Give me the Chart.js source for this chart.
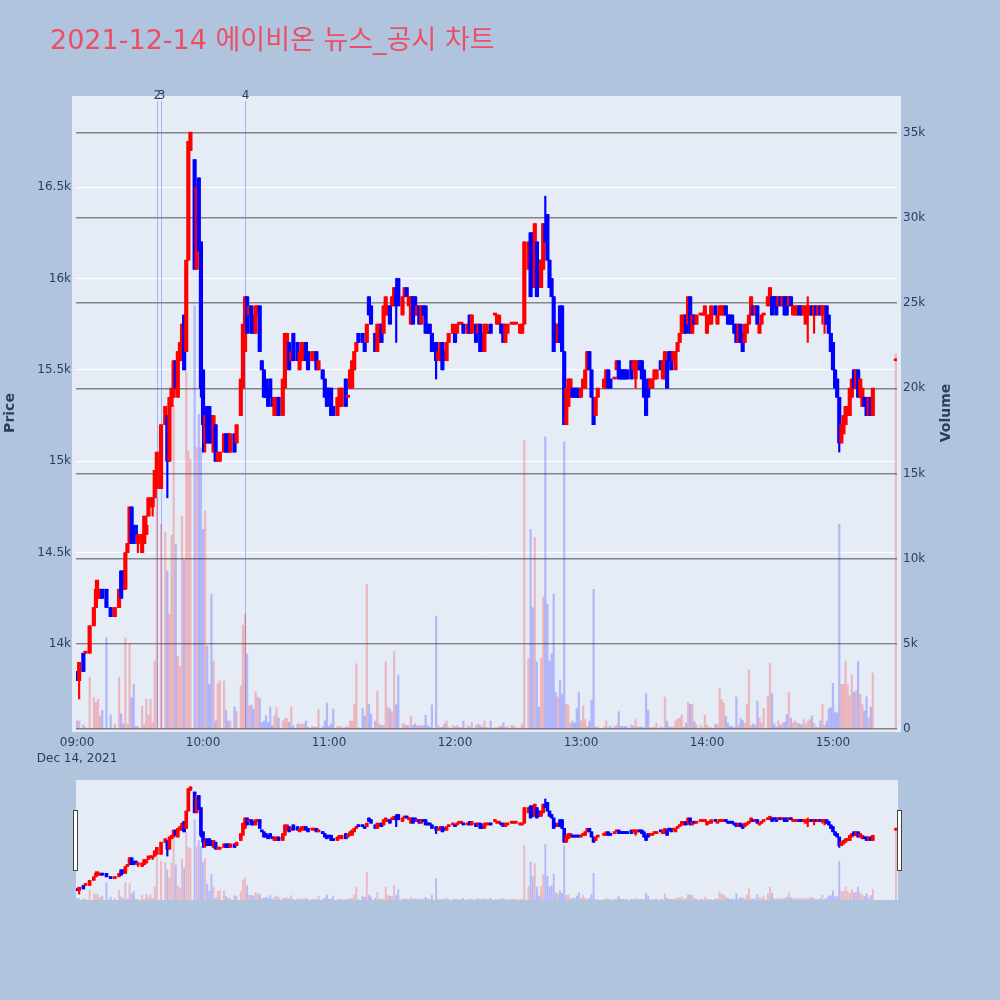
<!DOCTYPE html>
<html>
<head>
<meta charset="utf-8">
<script src="https://cdn.jsdelivr.net/npm/chart.js@4.4.1/dist/chart.umd.min.js"></script>
<style>
  html, body { margin: 0; padding: 0; background: #B0C4DE; }
  body { width: 1000px; height: 1000px; position: relative; overflow: hidden; }
  #title { position: absolute; left: 50px; top: 26px; font-size: 27px; line-height: 27px; color: #EB4F66;
           font-family: "DejaVu Sans", "Noto Sans CJK KR", sans-serif; white-space: nowrap; }
  #main { position: absolute; left: 0; top: 0; }
  #slider { position: absolute; left: 0; top: 780px; }
</style>
</head>
<body>
<canvas id="main" width="1000" height="780"></canvas>
<canvas id="slider" width="1000" height="120"></canvas>
<div id="title">2021-12-14 에이비온 뉴스_공시 차트</div>
<script>
// 1분봉 (시간, 시가, 고가, 저가, 종가, 거래량)
const times = [
  "09:00","09:01","09:03","09:04","09:06","09:08","09:09","09:10","09:11","09:12",
  "09:14","09:16","09:18","09:20","09:21","09:22","09:23","09:24","09:25","09:26",
  "09:27","09:28","09:29","09:31","09:32","09:33","09:34","09:35","09:36","09:37",
  "09:38","09:40","09:42","09:43","09:44","09:45","09:46","09:47","09:48","09:49",
  "09:50","09:51","09:52","09:53","09:54","09:56","09:57","09:58","09:59","10:00",
  "10:01","10:02","10:03","10:04","10:05","10:06","10:07","10:08","10:10","10:11",
  "10:12","10:13","10:15","10:16","10:18","10:19","10:20","10:21","10:22","10:23",
  "10:24","10:25","10:26","10:27","10:28","10:29","10:30","10:31","10:32","10:33",
  "10:34","10:35","10:36","10:38","10:39","10:40","10:41","10:42","10:43","10:45",
  "10:46","10:47","10:48","10:49","10:50","10:52","10:53","10:54","10:55","10:57",
  "10:58","10:59","11:00","11:01","11:02","11:04","11:05","11:06","11:08","11:09",
  "11:10","11:11","11:12","11:13","11:14","11:16","11:17","11:18","11:19","11:20",
  "11:22","11:23","11:24","11:25","11:26","11:27","11:28","11:29","11:30","11:31",
  "11:32","11:33","11:35","11:36","11:37","11:38","11:39","11:40","11:41","11:42",
  "11:43","11:44","11:45","11:46","11:47","11:48","11:49","11:51","11:52","11:53",
  "11:54","11:55","11:56","11:57","11:59","12:00","12:01","12:02","12:03","12:04",
  "12:06","12:07","12:08","12:10","12:11","12:12","12:13","12:14","12:15","12:16",
  "12:17","12:19","12:20","12:21","12:22","12:23","12:24","12:25","12:27","12:28",
  "12:29","12:31","12:32","12:33","12:35","12:36","12:37","12:38","12:39","12:40",
  "12:41","12:42","12:43","12:44","12:45","12:46","12:47","12:48","12:49","12:50",
  "12:51","12:52","12:53","12:54","12:55","12:56","12:57","12:58","12:59","13:00",
  "13:01","13:02","13:03","13:04","13:05","13:06","13:07","13:08","13:11","13:12",
  "13:13","13:14","13:16","13:17","13:18","13:19","13:20","13:21","13:22","13:24",
  "13:25","13:26","13:27","13:28","13:29","13:30","13:31","13:32","13:33","13:34",
  "13:35","13:36","13:38","13:39","13:40","13:41","13:42","13:43","13:44","13:45",
  "13:46","13:47","13:48","13:49","13:50","13:51","13:52","13:53","13:54","13:55",
  "13:57","13:58","13:59","14:00","14:01","14:02","14:04","14:05","14:06","14:07",
  "14:08","14:09","14:10","14:11","14:12","14:13","14:14","14:15","14:16","14:17",
  "14:18","14:19","14:20","14:21","14:22","14:23","14:24","14:25","14:26","14:27",
  "14:29","14:30","14:31","14:32","14:33","14:34","14:35","14:36","14:37","14:38",
  "14:39","14:40","14:41","14:42","14:43","14:44","14:45","14:46","14:47","14:48",
  "14:49","14:50","14:51","14:52","14:53","14:54","14:55","14:56","14:57","14:58",
  "14:59","15:00","15:01","15:02","15:03","15:04","15:05","15:06","15:07","15:08",
  "15:09","15:10","15:11","15:12","15:13","15:14","15:15","15:16","15:17","15:18",
  "15:19","15:30"
]
const opens = [
  13850,13800,13950,13950,13950,14100,14200,14250,14250,14300,
  14300,14200,14150,14200,14400,14400,14300,14500,14550,14750,
  14650,14650,14550,14500,14550,14600,14700,14750,14750,14800,
  14850,14850,15200,15250,15000,15300,15350,15550,15350,15550,
  15550,15800,15600,16100,16700,16650,16050,16550,16200,15500,
  15100,15300,15300,15250,15050,15200,15000,15000,15050,15150,
  15150,15050,15150,15100,15250,15400,15600,15900,15800,15850,
  15800,15700,15800,15850,15550,15500,15450,15400,15450,15350,
  15250,15250,15350,15250,15400,15550,15650,15550,15700,15650,
  15500,15550,15550,15650,15600,15550,15550,15600,15500,15500,
  15450,15400,15400,15400,15300,15250,15300,15300,15450,15350,
  15400,15400,15500,15600,15700,15700,15650,15650,15900,15850,
  15700,15600,15650,15750,15700,15800,15800,15850,15850,15850,
  15950,16000,15800,15900,15950,15850,15750,15900,15900,15800,
  15850,15750,15850,15850,15750,15750,15700,15650,15550,15550,
  15650,15600,15550,15650,15700,15700,15700,15750,15750,15750,
  15700,15800,15700,15750,15700,15750,15700,15600,15700,15700,
  15750,15800,15750,15750,15750,15750,15650,15700,15750,15750,
  15750,15700,15700,15750,16050,16250,16250,15950,16200,16100,
  15950,16050,16300,16350,16100,16000,15900,15750,15650,15850,
  15850,15600,15200,15300,15350,15400,15400,15400,15400,15350,
  15400,15400,15500,15600,15500,15350,15250,15350,15400,15400,
  15500,15450,15450,15500,15550,15500,15500,15500,15500,15550,
  15500,15450,15500,15550,15550,15500,15400,15450,15400,15400,
  15450,15450,15550,15450,15450,15550,15600,15600,15550,15500,
  15600,15650,15700,15700,15800,15750,15900,15700,15800,15750,
  15800,15800,15800,15700,15750,15750,15850,15750,15800,15800,
  15800,15850,15800,15800,15800,15750,15750,15650,15750,15700,
  15650,15700,15750,15800,15850,15800,15850,15700,15750,15800,
  15850,15850,15900,15900,15900,15850,15900,15850,15900,15900,
  15850,15900,15800,15800,15800,15850,15850,15800,15750,15800,
  15800,15850,15800,15850,15800,15850,15800,15800,15850,15800,
  15700,15650,15500,15450,15350,15100,15150,15200,15250,15250,
  15350,15500,15400,15500,15350,15300,15350,15350,15250,15350,
  15250,15550
]
const highs = [
  13850,13900,13950,13950,14100,14200,14350,14350,14300,14300,
  14300,14200,14200,14300,14400,14400,14500,14550,14750,14750,
  14650,14650,14600,14600,14700,14700,14800,14800,14800,14950,
  15050,15200,15300,15250,15350,15400,15550,15550,15600,15650,
  15750,15800,16100,16750,16800,16650,16500,16550,16200,15500,
  15300,15300,15300,15250,15250,15200,15050,15050,15150,15150,
  15150,15150,15150,15200,15450,15750,15900,15900,15850,15850,
  15800,15850,15850,15850,15550,15500,15450,15400,15450,15350,
  15350,15350,15350,15450,15700,15700,15650,15600,15700,15650,
  15600,15650,15650,15650,15600,15600,15600,15600,15550,15500,
  15450,15400,15400,15400,15300,15350,15400,15400,15450,15350,
  15500,15550,15600,15650,15700,15700,15650,15750,15900,15850,
  15700,15750,15750,15750,15850,15900,15850,15850,15900,15950,
  16000,16000,15900,15950,15950,15900,15900,15900,15900,15850,
  15850,15850,15850,15850,15750,15750,15700,15650,15600,15650,
  15650,15600,15650,15700,15750,15700,15750,15750,15750,15750,
  15750,15800,15800,15750,15750,15750,15700,15750,15750,15700,
  15750,15800,15800,15800,15750,15750,15750,15750,15750,15750,
  15750,15750,15750,16200,16200,16250,16250,16300,16200,16100,
  16100,16300,16450,16350,16100,16000,15900,15750,15750,15850,
  15850,15600,15400,15450,15450,15400,15400,15400,15400,15400,
  15450,15500,15600,15600,15500,15350,15350,15400,15450,15500,
  15500,15450,15450,15550,15550,15500,15500,15500,15500,15550,
  15550,15550,15550,15550,15550,15500,15400,15450,15450,15450,
  15500,15500,15550,15550,15600,15550,15600,15600,15600,15600,
  15650,15700,15800,15800,15800,15900,15900,15800,15800,15800,
  15800,15800,15850,15800,15800,15850,15850,15800,15850,15850,
  15850,15850,15800,15800,15800,15750,15750,15750,15750,15700,
  15750,15750,15800,15900,15850,15850,15850,15750,15800,15800,
  15900,15950,15900,15900,15900,15900,15900,15900,15900,15900,
  15900,15900,15850,15850,15850,15850,15850,15850,15850,15900,
  15850,15850,15850,15850,15850,15850,15850,15850,15850,15800,
  15700,15650,15500,15450,15350,15200,15250,15300,15300,15400,
  15450,15500,15500,15500,15450,15400,15350,15350,15350,15350,
  15400,15550
]
const lows = [
  13800,13700,13850,13950,13950,14100,14200,14250,14250,14250,
  14200,14150,14150,14200,14250,14300,14300,14500,14550,14550,
  14550,14600,14500,14500,14550,14600,14700,14750,14700,14800,
  14850,14850,15200,14800,15000,15300,15350,15400,15350,15550,
  15550,15500,15600,16100,16700,16050,16050,16150,15350,15050,
  15050,15100,15100,15100,15050,15000,15000,15000,15050,15050,
  15050,15050,15050,15100,15250,15400,15600,15700,15800,15700,
  15700,15700,15800,15600,15500,15350,15350,15300,15350,15300,
  15250,15250,15250,15250,15400,15550,15500,15550,15550,15550,
  15500,15550,15550,15550,15500,15550,15550,15500,15500,15450,
  15350,15300,15350,15250,15250,15250,15300,15300,15300,15350,
  15400,15400,15500,15600,15650,15650,15600,15650,15800,15750,
  15600,15600,15650,15650,15700,15800,15800,15750,15850,15850,
  15650,15850,15800,15900,15900,15850,15750,15750,15800,15800,
  15750,15750,15800,15700,15700,15700,15600,15450,15550,15550,
  15500,15550,15550,15650,15700,15650,15700,15750,15750,15700,
  15700,15700,15700,15650,15700,15600,15600,15600,15700,15700,
  15700,15800,15750,15750,15700,15650,15650,15700,15750,15750,
  15750,15700,15700,15750,16050,15900,15950,15950,15900,15950,
  15950,16050,16200,16100,15950,15900,15600,15650,15650,15650,
  15600,15200,15200,15300,15350,15350,15350,15350,15350,15350,
  15400,15400,15500,15500,15350,15200,15250,15350,15400,15400,
  15400,15400,15450,15500,15450,15450,15450,15450,15450,15450,
  15500,15400,15500,15500,15450,15350,15250,15350,15400,15400,
  15450,15450,15500,15450,15450,15400,15550,15500,15550,15500,
  15600,15650,15700,15700,15700,15750,15700,15700,15750,15750,
  15800,15800,15800,15700,15750,15750,15800,15750,15800,15800,
  15800,15800,15750,15750,15750,15700,15650,15650,15650,15600,
  15650,15700,15750,15800,15800,15800,15750,15700,15750,15800,
  15850,15850,15800,15850,15800,15850,15850,15850,15800,15800,
  15850,15850,15800,15800,15800,15800,15800,15800,15750,15650,
  15800,15800,15700,15800,15800,15800,15750,15700,15750,15700,
  15600,15500,15400,15350,15050,15100,15150,15200,15250,15250,
  15350,15400,15400,15350,15350,15300,15300,15250,15250,15250,
  15250,15550
]
const closes = [
  13800,13900,13850,13950,14100,14200,14300,14300,14300,14250,
  14200,14150,14200,14300,14250,14300,14500,14550,14750,14550,
  14550,14600,14600,14600,14700,14650,14800,14800,14800,14950,
  15050,15200,15300,15000,15350,15400,15550,15400,15600,15650,
  15750,15500,16100,16750,16800,16050,16500,16150,15400,15200,
  15250,15100,15100,15100,15250,15000,15050,15050,15150,15050,
  15050,15150,15050,15200,15450,15750,15900,15700,15850,15700,
  15700,15850,15850,15600,15500,15350,15350,15300,15350,15300,
  15350,15350,15250,15450,15700,15700,15500,15600,15550,15550,
  15600,15650,15650,15550,15500,15600,15600,15500,15550,15450,
  15350,15300,15350,15250,15250,15350,15400,15400,15300,15350,
  15500,15550,15600,15650,15650,15650,15600,15750,15800,15750,
  15600,15750,15750,15650,15850,15900,15850,15750,15900,15950,
  15850,15850,15900,15950,15900,15900,15900,15750,15800,15850,
  15750,15850,15800,15700,15700,15700,15600,15550,15600,15650,
  15500,15550,15650,15700,15750,15650,15750,15750,15750,15700,
  15750,15700,15800,15650,15750,15600,15600,15750,15750,15700,
  15700,15800,15800,15800,15700,15650,15750,15750,15750,15750,
  15750,15750,15750,16200,16200,15900,15950,16300,15900,15950,
  16100,16300,16200,16100,15950,15900,15600,15650,15750,15650,
  15600,15200,15400,15450,15450,15350,15350,15350,15350,15400,
  15450,15500,15600,15500,15350,15200,15350,15400,15450,15500,
  15400,15400,15450,15550,15450,15450,15450,15450,15450,15450,
  15550,15550,15550,15500,15450,15350,15250,15350,15450,15450,
  15500,15500,15500,15550,15600,15400,15550,15500,15600,15600,
  15650,15700,15800,15800,15700,15900,15700,15800,15750,15800,
  15800,15800,15850,15800,15800,15850,15800,15800,15850,15850,
  15850,15800,15750,15750,15750,15700,15650,15750,15650,15600,
  15750,15750,15800,15900,15800,15850,15750,15750,15800,15800,
  15900,15950,15800,15850,15800,15900,15850,15900,15800,15800,
  15900,15850,15850,15850,15850,15800,15800,15850,15850,15850,
  15850,15800,15850,15800,15850,15800,15850,15850,15750,15700,
  15600,15500,15400,15350,15100,15200,15250,15300,15300,15400,
  15450,15400,15500,15350,15450,15400,15300,15250,15350,15250,
  15400,15550
]
const volumes = [
  470,470,230,100,3050,1840,1550,1740,770,1100,
  5360,820,300,3050,900,300,5360,300,5010,1840,
  2630,150,150,1350,300,1750,800,1750,400,3990,
  13580,12010,11530,9270,6730,11370,19000,10840,4270,3690,
  12500,9900,21000,16320,15830,24830,16510,18470,16500,11720,
  12800,4870,2640,7900,3990,470,2660,2820,2820,1100,
  470,470,1290,1030,2520,6100,6750,4400,1350,1410,
  1150,2190,1880,1800,390,470,780,390,1290,200,
  780,1250,650,470,620,620,390,1290,200,290,
  290,290,290,470,100,160,120,100,1170,120,
  470,1520,160,300,1170,160,160,120,120,120,
  470,470,1450,3830,80,1210,760,8490,1450,880,
  470,2230,300,200,200,3950,1290,1190,1000,4540,
  1420,3170,300,300,200,200,760,200,300,200,
  200,200,200,800,200,100,1410,6630,200,100,
  120,300,470,120,200,120,200,100,100,470,
  200,120,390,200,300,230,100,470,100,80,
  470,80,80,160,160,350,120,120,230,160,
  80,80,300,16960,4150,11720,7120,11240,3950,1270,
  4150,7750,17140,7340,3990,4420,7910,2130,1880,2860,
  2050,16860,1450,1410,350,470,350,1210,2150,470,
  1360,550,160,470,1700,8200,120,120,120,470,
  80,160,160,235,1020,160,160,160,120,235,
  160,550,120,120,120,80,2070,1100,80,100,
  120,350,120,80,1880,470,120,120,120,470,
  590,630,840,120,350,1570,1450,1450,430,235,
  235,80,820,235,80,80,300,235,2390,1720,
  1520,760,350,160,160,80,1880,235,630,510,
  350,1450,3460,235,300,235,1640,660,350,1210,
  1920,3850,2070,300,120,470,235,350,390,840,
  2150,650,350,470,350,300,235,550,300,470,
  550,760,350,120,80,470,1450,235,470,1190,
  1250,2680,1000,940,12010,2620,2620,3990,2580,1960,
  3170,2150,2250,3950,2030,1450,1060,1890,650,1290,
  3290,22000
]

// 뉴스/공시 시각
const newsTimes = ["09:38", "09:40", "10:20"]
const newsLabels = ["2", "3", "4"]

// 축 눈금
const tickTimes = ["09:00", "10:00", "11:00", "12:00", "13:00", "14:00", "15:00"]
const dateLabel = "Dec 14, 2021"
const priceTicks = [14000, 14500, 15000, 15500, 16000, 16500]
const volumeTicks = [0, 5000, 10000, 15000, 20000, 25000, 30000, 35000]

const UP = "#ff0000", DOWN = "#0000ff"
const UP_VOL = "rgba(255, 0, 0, 0.22)", DOWN_VOL = "rgba(0, 0, 255, 0.22)"
const TEXT = "#2a3f5f"
const FONT = '"DejaVu Sans", "Open Sans", sans-serif'

const toMin = s => { const [h, m] = s.split(":").map(Number); return (h - 9) * 60 + m }
const mins = times.map(toMin)
const isUp = closes.map((c, i) => c >= opens[i])
const fmtK = v => v === 0 ? "0" : (v / 1000) + "k"

function candleSets(bodyW, wickW, volW) {
  return [
    {
      type: "bar", label: "body", order: 1, yAxisID: "y", grouped: false,
      data: mins.map((x, i) => ({ x, y: [opens[i], closes[i]] })),
      backgroundColor: isUp.map(u => u ? UP : DOWN),
      barThickness: bodyW, minBarLength: 2
    },
    {
      type: "bar", label: "wick", order: 2, yAxisID: "y", grouped: false,
      data: mins.map((x, i) => ({ x, y: [lows[i], highs[i]] })),
      backgroundColor: isUp.map(u => u ? UP : DOWN),
      barThickness: wickW, minBarLength: 1
    },
    {
      type: "bar", label: "Volume", order: 3, yAxisID: "y2", grouped: false,
      data: mins.map((x, i) => ({ x, y: volumes[i] })),
      backgroundColor: isUp.map(u => u ? UP_VOL : DOWN_VOL),
      barThickness: volW
    }
  ]
}

// 플롯 배경
const plotBg = {
  id: "plotBg",
  beforeDraw(chart, args, opts) {
    const { ctx, chartArea: a } = chart
    ctx.save()
    ctx.fillStyle = "#E5ECF6"
    ctx.fillRect(a.left - opts.padL, a.top, a.right - a.left + opts.padL + opts.padR, a.bottom - a.top + opts.padB)
    ctx.restore()
  }
}

// 뉴스 세로선 + 번호
const newsLines = {
  id: "newsLines",
  beforeDatasetsDraw(chart) {
    const { ctx, chartArea: a, scales } = chart
    ctx.save()
    ctx.strokeStyle = "rgba(70, 110, 250, 0.45)"
    ctx.lineWidth = 1
    newsTimes.forEach(t => {
      const x = Math.round(scales.x.getPixelForValue(toMin(t))) + 0.5
      ctx.beginPath()
      ctx.moveTo(x, a.top + 5)
      ctx.lineTo(x, a.bottom - 2)
      ctx.stroke()
    })
    ctx.restore()
  },
  afterDraw(chart) {
    const { ctx, chartArea: a, scales } = chart
    ctx.save()
    ctx.fillStyle = TEXT
    ctx.font = "12px " + FONT
    ctx.textAlign = "center"
    ctx.textBaseline = "middle"
    newsTimes.forEach((t, i) => {
      ctx.fillText(newsLabels[i], scales.x.getPixelForValue(toMin(t)) + 0.5, a.top)
    })
    ctx.restore()
  }
}

// 축 제목
const axisTitles = {
  id: "axisTitles",
  afterDraw(chart) {
    const { ctx, chartArea: a } = chart
    const mid = (a.top + a.bottom) / 2
    ctx.save()
    ctx.fillStyle = TEXT
    ctx.font = "bold 14px " + FONT
    ctx.textAlign = "center"
    ctx.textBaseline = "middle"
    ;[["Price", 10], ["Volume", 946]].forEach(([txt, x]) => {
      ctx.save()
      ctx.translate(x, mid)
      ctx.rotate(-Math.PI / 2)
      ctx.fillText(txt, 0, 0)
      ctx.restore()
    })
    ctx.restore()
  }
}

// 레인지 슬라이더 핸들
const handles = {
  id: "handles",
  afterDraw(chart) {
    const { ctx, chartArea: a } = chart
    ctx.save()
    ctx.fillStyle = "#ffffff"
    ctx.strokeStyle = "#444444"
    ctx.lineWidth = 1
    ;[a.left - 3, a.right].forEach(x => {
      ctx.fillRect(x, 30, 4, 60)
      ctx.strokeRect(x + 0.5, 30.5, 4, 60)
    })
    ctx.restore()
  }
}

const xRange = { min: -0.5, max: 390.5, offset: false }
const priceRange = { min: 13530, max: 16998 }
const volRange = { min: -58, max: 37149 }

Chart.defaults.font.family = FONT
Chart.defaults.animation = false

new Chart(document.getElementById("main"), {
  data: { datasets: candleSets(3.5, 1.5, 1.6) },
  options: {
    responsive: false,
    events: [],
    layout: { padding: { top: 96, left: 0, right: 0, bottom: 0 } },
    plugins: {
      legend: { display: false },
      tooltip: { enabled: false },
      plotBg: { padL: 4, padR: 4, padB: 2 }
    },
    scales: {
      x: {
        type: "linear", ...xRange,
        grid: { display: false, drawTicks: false }, border: { display: false },
        afterBuildTicks: s => { s.ticks = tickTimes.map(t => ({ value: toMin(t) })) },
        afterFit: s => { s.height = 50 },
        ticks: {
          autoSkip: false, maxRotation: 0, padding: 5, color: TEXT, font: { size: 12, lineHeight: 1.35 },
          callback: (v, i) => i === 0 ? [tickTimes[0], dateLabel] : tickTimes[i]
        }
      },
      y: {
        type: "linear", position: "left", ...priceRange,
        grid: { color: "#ffffff", lineWidth: 1, drawTicks: false }, border: { display: false },
        afterBuildTicks: s => { s.ticks = priceTicks.map(v => ({ value: v })) },
        afterFit: s => { s.width = 76 },
        ticks: { padding: 5, color: TEXT, font: { size: 12 }, callback: v => fmtK(v) }
      },
      y2: {
        type: "linear", position: "right", ...volRange,
        grid: { color: "rgba(115, 115, 115, 0.85)", lineWidth: 1.4, drawTicks: false }, border: { display: false },
        afterBuildTicks: s => { s.ticks = volumeTicks.map(v => ({ value: v })) },
        afterFit: s => { s.width = 103 },
        ticks: { padding: 6, color: TEXT, font: { size: 12 }, callback: v => fmtK(v) }
      }
    }
  },
  plugins: [plotBg, newsLines, axisTitles]
})

new Chart(document.getElementById("slider"), {
  data: { datasets: candleSets(3, 1.5, 1.2) },
  options: {
    responsive: false,
    events: [],
    layout: { padding: { top: 0, left: 76, right: 103, bottom: 0 } },
    plugins: {
      legend: { display: false },
      tooltip: { enabled: false },
      plotBg: { padL: 0, padR: 1, padB: 0 }
    },
    scales: {
      x: { type: "linear", display: false, ...xRange },
      y: { type: "linear", display: false, ...priceRange },
      y2: { type: "linear", display: false, ...volRange }
    }
  },
  plugins: [plotBg, handles]
})
</script>
</body>
</html>
